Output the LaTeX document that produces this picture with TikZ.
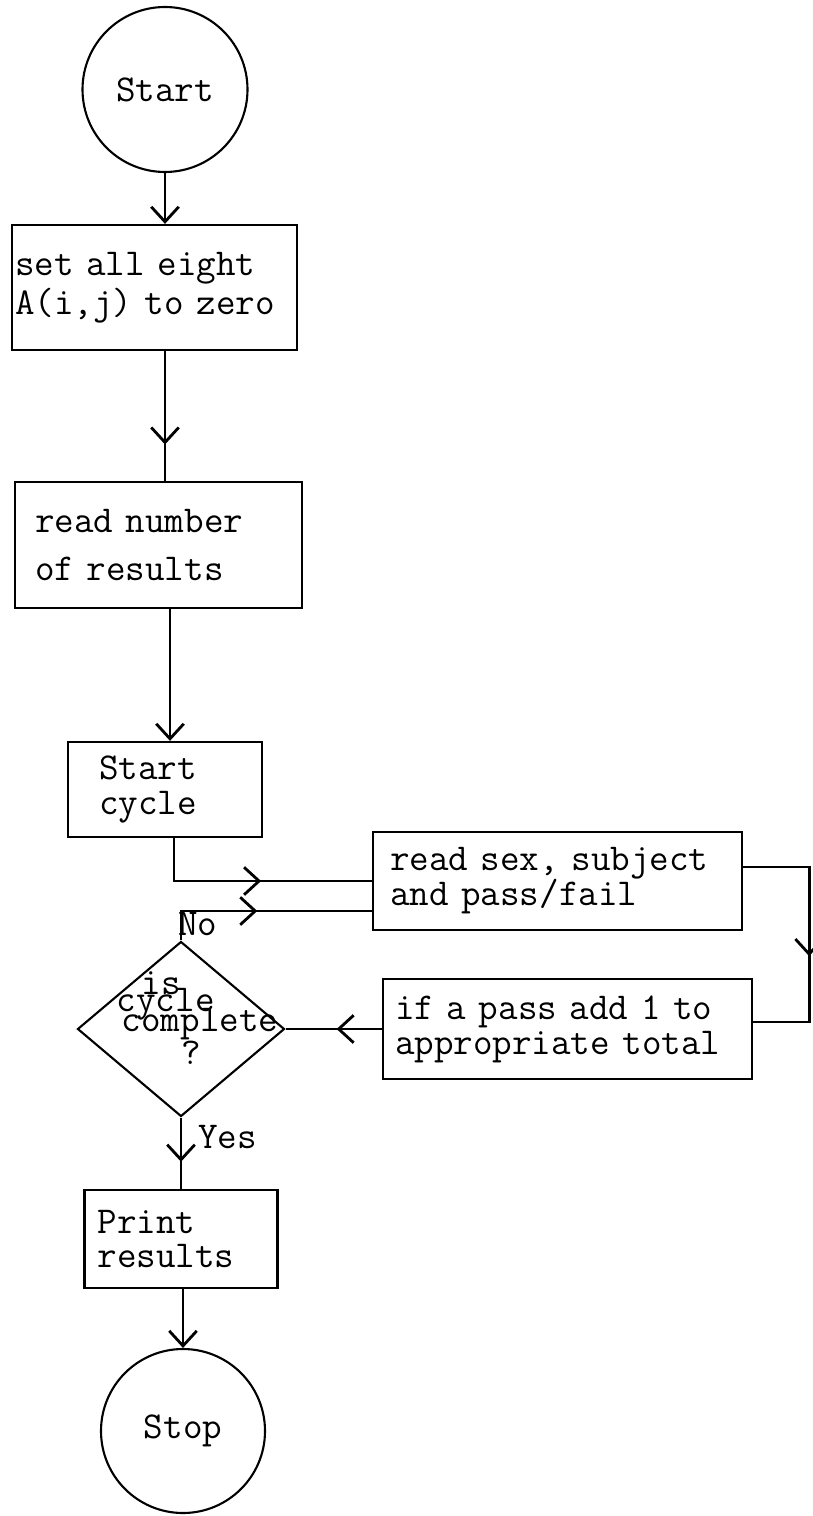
\documentclass[tikz,border=0pt]{standalone}
\usetikzlibrary{shapes.geometric, arrows.meta, decorations.markings}

\newcommand{\tyfont}{\fontsize{21.6pt}{20pt}\selectfont\ttfamily}

\begin{document}
\begin{tikzpicture}[
  font=\tyfont,
  term/.style={draw, circle, line width=1.2pt, inner sep=0pt, minimum size=3.3cm},
  box/.style={draw, line width=1.3pt, align=left, inner ysep=0pt},
  test/.style={draw, diamond, line width=1.2pt, inner sep=0pt,
               minimum width=4.14cm, minimum height=3.5cm},
  lbl/.style={inner sep=0pt},
  flow/.style={line width=1.6pt},
  endarr/.style={-{Straight Barb[length=0.3cm, width=0.55cm]}},
  midarr/.style={postaction={decorate}, decoration={markings,
      mark=at position #1 with {\arrow{Straight Barb[length=0.3cm, width=0.55cm]}}}}
]
\useasboundingbox (0,0) rectangle (16.24,-30.32);

\node[term] (start) at (3.30,-1.79) {Start};
\node[box, text width=5.58cm, inner xsep=0.06cm, minimum height=2.5cm]
  (box1) at (3.09,-5.75) {set all eight\\[0.08cm]A(i,j) to zero};
\node[box, text width=4.94cm, inner xsep=0.4cm, minimum height=2.52cm]
  (box2) at (3.17,-10.90) {read number\\[0.24cm]of results};
\node[box, text width=2.64cm, inner xsep=0.62cm, minimum height=1.9cm]
  (box3) at (3.30,-15.79) {Start\\cycle};
\node[box, text width=6.70cm, inner xsep=0.34cm, minimum height=1.96cm]
  (box4) at (11.15,-17.62) {read sex, subject\\and pass/fail};
\node[box, text width=6.90cm, inner xsep=0.24cm, minimum height=2.0cm]
  (box5) at (11.35,-20.58) {if a pass add 1 to\\appropriate total};
\node[test] (test) at (3.62,-20.58) {};
\node[lbl, align=left] (testtext) at ([xshift=0.33cm, yshift=0.22cm]test)
  {\hspace*{0.5cm}is\\[-0.36cm]cycle\\[-0.3cm]\hspace*{0.1cm}complete\\[-0.06cm]\hspace*{1.3cm}?};
\node[box, text width=3.34cm, inner xsep=0.26cm, minimum height=1.96cm]
  (print) at (3.62,-24.78) {Print\\[-0.04cm]results};
\node[term, minimum size=3.28cm] (stop) at (3.66,-28.62) {Stop};

\node[lbl, anchor=base west] (no) at (3.56,-18.70) {No};
\node[lbl, anchor=base west] (yes) at (3.96,-22.96) {Yes};

\draw[flow, endarr] (start) -- (start |- box1.north);
\draw[flow, midarr=0.72] (start |- box1.south) -- (start |- box2.north);
\draw[flow, endarr] ([xshift=0.1cm]box3.north |- box2.south) -- ([xshift=0.1cm]box3.north);
\draw[flow, midarr=0.54] ([xshift=0.18cm]box3.south) |- (box4.west);
\draw[flow, midarr=0.48] (test.north) |- ([yshift=-0.6cm]box4.west);
\draw[flow, midarr=0.56] ([yshift=0.28cm]box4.east) -- ++(1.32,0) |- ([yshift=0.14cm]box5.east);
\draw[flow, midarr=0.47] (box5) -- (test);
\draw[flow, midarr=0.62] (test) -- (print);
\draw[flow, endarr] (stop |- print.south) -- (stop);
\end{tikzpicture}
\end{document}
